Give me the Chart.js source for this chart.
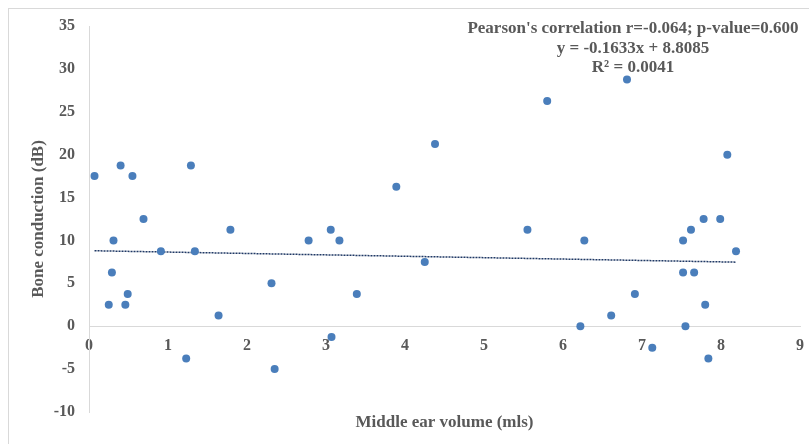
<!DOCTYPE html>
<html>
<head>
<meta charset="utf-8">
<script src="https://cdn.jsdelivr.net/npm/chart.js@4.4.1/dist/chart.umd.min.js"></script>
<style>
  html, body { margin: 0; padding: 0; background: #ffffff; overflow: hidden; }
  #wrap { position: relative; width: 809px; height: 444px; }
  #frame { position: absolute; left: 8px; top: 8px; width: 900px; height: 600px;
           border-left: 1px solid #d9d9d9; border-top: 1px solid #d9d9d9; }
  #c { position: absolute; left: 0; top: 0; }
</style>
</head>
<body>
<div id="wrap">
  <div id="frame"></div>
  <canvas id="c" width="809" height="444"></canvas>
</div>
<script>
// ---- data ----
const volume = [0.07, 0.25, 0.29, 0.31, 0.40, 0.46, 0.49, 0.55, 0.69, 0.91,
                1.23, 1.29, 1.34, 1.64, 1.79, 2.31, 2.35, 2.78, 3.06, 3.07,
                3.17, 3.39, 3.89, 4.25, 4.38, 5.55, 5.80, 6.22, 6.27, 6.61,
                6.81, 6.91, 7.13, 7.52, 7.52, 7.55, 7.62, 7.66, 7.78, 7.80,
                7.84, 7.99, 8.08, 8.19];
const boneConduction = [17.5, 2.5, 6.25, 10, 18.75, 2.5, 3.75, 17.5, 12.5, 8.75,
                -3.75, 18.75, 8.75, 1.25, 11.25, 5, -5, 10, 11.25, -1.25,
                10, 3.75, 16.25, 7.5, 21.25, 11.25, 26.25, 0, 10, 1.25,
                28.75, 3.75, -2.5, 10, 6.25, 0, 11.25, 6.25, 12.5, 2.5,
                -3.75, 12.5, 20, 8.75];
const trendSlope = -0.1633;
const trendIntercept = 8.8085;
const annotationLines = [
  "Pearson's correlation r=-0.064; p-value=0.600",
  "y = -0.1633x + 8.8085",
  "R\u00B2 = 0.0041"
];
const xTitle = "Middle ear volume (mls)";
const yTitle = "Bone conduction (dB)";
const xRange = [0, 9];
const yRange = [-10, 35];

// ---- build datasets ----
const points = volume.map((v, i) => ({ x: v, y: boneConduction[i] }));
const xMin = Math.min(...volume), xMax = Math.max(...volume);
const trend = [xMin, xMax].map(x => ({ x: x, y: trendSlope * x + trendIntercept }));

const grey = '#595959';
const fontFam = '"Liberation Serif", "Times New Roman", serif';

const annotationPlugin = {
  id: 'annot',
  afterDraw(chart) {
    const ctx = chart.ctx;
    ctx.save();
    ctx.font = 'bold 17px ' + fontFam;
    ctx.fillStyle = grey;
    ctx.textAlign = 'center';
    ctx.textBaseline = 'middle';
    const cx = chart.chartArea.right - 167;
    annotationLines.forEach((t, i) => ctx.fillText(t, cx, 29 + i * 19.5));
    ctx.restore();
  }
};

new Chart(document.getElementById('c'), {
  type: 'scatter',
  data: {
    datasets: [
      {
        data: points,
        backgroundColor: '#4a7ebb',
        borderColor: '#4a7ebb',
        borderWidth: 0,
        pointRadius: 4,
        pointHoverRadius: 4,
        order: 1
      },
      {
        type: 'line',
        data: trend,
        showLine: true,
        borderColor: '#1f3864',
        borderWidth: 1.5,
        borderDash: [2, 1],
        pointRadius: 0,
        fill: false,
        order: 2
      }
    ]
  },
  options: {
    responsive: false,
    animation: false,
    layout: { padding: { left: 24, right: 9, top: 26, bottom: 0 } },
    plugins: { legend: { display: false }, tooltip: { enabled: false } },
    scales: {
      x: {
        type: 'linear',
        position: { y: 0 },
        min: xRange[0], max: xRange[1],
        ticks: { stepSize: 1, color: grey, padding: 10,
                 font: { family: fontFam, size: 16, weight: 'bold' } },
        grid: { display: false, drawTicks: false },
        border: { display: true, color: '#d9d9d9', width: 1 },
        afterFit(s) { s.height = 0; s.paddingRight = 0; s.paddingLeft = 0; }
      },
      xLabel: {
        type: 'linear',
        position: 'bottom',
        min: xRange[0], max: xRange[1],
        ticks: { display: false },
        grid: { display: false, drawTicks: false },
        border: { display: false },
        title: { display: true, text: xTitle, color: grey,
                 font: { family: fontFam, size: 17, weight: 'bold' },
                 padding: { top: 0, bottom: 11 } },
        afterFit(s) { s.height = 32; s.paddingRight = 0; s.paddingLeft = 0; }
      },
      y: {
        type: 'linear',
        position: 'left',
        min: yRange[0], max: yRange[1],
        ticks: { stepSize: 5, color: grey, padding: 14,
                 font: { family: fontFam, size: 16, weight: 'bold' } },
        grid: { display: false, drawTicks: false },
        border: { display: true, color: '#d9d9d9', width: 1 },
        title: { display: true, text: yTitle, color: grey,
                 font: { family: fontFam, size: 17, weight: 'bold' },
                 padding: { top: 4, bottom: 0 } },
        afterFit(s) { s.width = 65; }
      }
    }
  },
  plugins: [annotationPlugin]
});
</script>
</body>
</html>
